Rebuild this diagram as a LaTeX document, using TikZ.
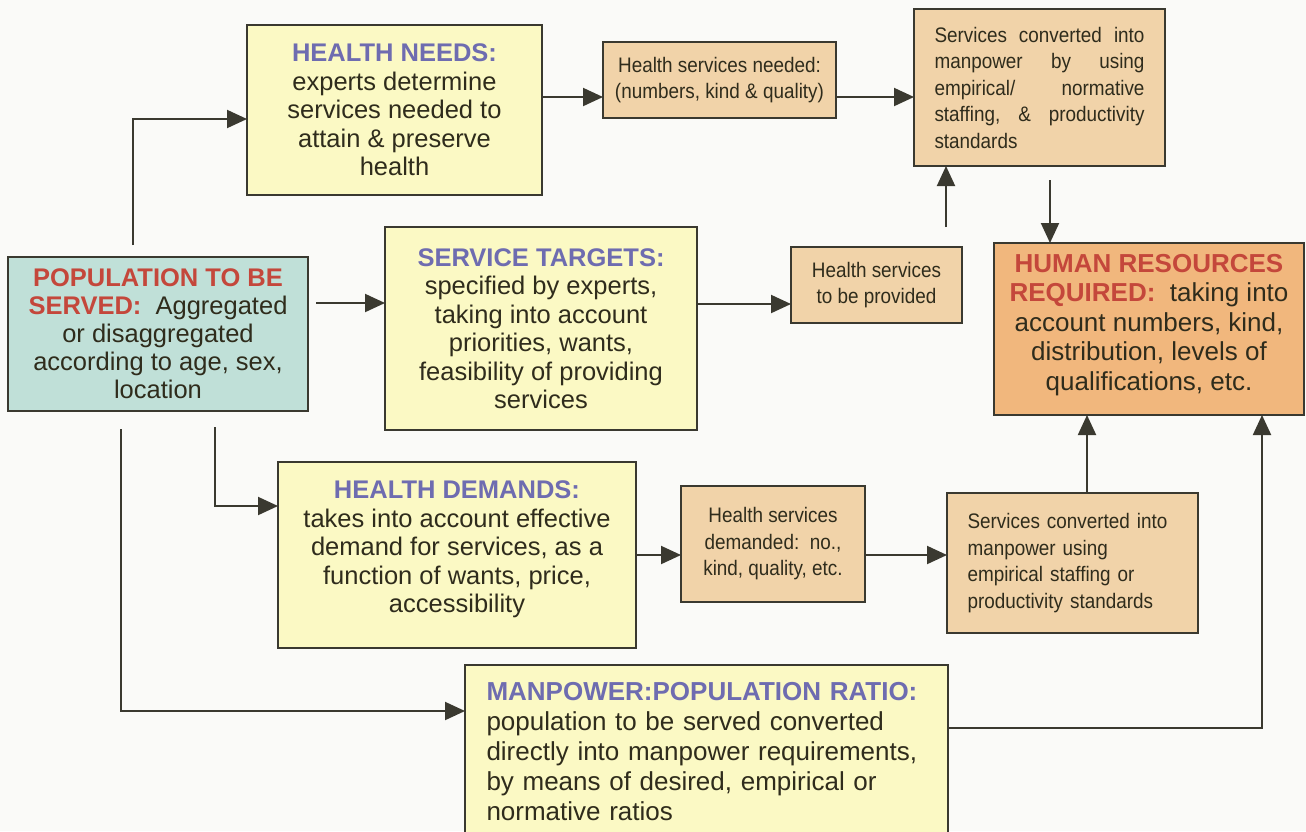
\documentclass[tikz,border=0pt]{standalone}
\usepackage{fontspec}
\setmainfont{Liberation Sans}
\newfontfamily\narrowsans[FakeStretch=0.9]{Liberation Sans}
\usetikzlibrary{arrows.meta}

\definecolor{ink}{HTML}{2F2C1C}
\definecolor{edgecol}{HTML}{3A3930}
\definecolor{titleblue}{HTML}{6E6CB0}
\definecolor{titlered}{HTML}{C4473B}
\definecolor{paleyellow}{HTML}{FBF9C4}
\definecolor{boxtan}{HTML}{F1D3A9}
\definecolor{boxteal}{HTML}{C0E0D8}
\definecolor{hrorange}{HTML}{F1B77D}
\definecolor{pagebg}{HTML}{FAFAF8}

\newcommand{\bluehead}[1]{\textcolor{titleblue}{\textbf{#1}}}
\newcommand{\redhead}[1]{\textcolor{titlered}{\textbf{#1}}}
\newcommand{\justline}[1]{\makebox[210pt][l]{#1}}

\tikzset{
  box/.style={draw=edgecol, line width=2pt, inner sep=0pt, outer sep=0pt, text=ink, align=center},
  bigbox/.style={box, fill=paleyellow, font=\fontsize{25.5}{28.5}\selectfont},
  smallbox/.style={box, fill=boxtan, font=\narrowsans\fontsize{21}{26.5}\selectfont},
  arr/.style={draw=edgecol, line width=2pt, -{Triangle[length=20pt,width=18pt]}},
}

\begin{document}
\begin{tikzpicture}[x=1pt,y=-1pt]
\fill[pagebg] (0,0) rectangle (1306,831);
\useasboundingbox (0,0) rectangle (1306,831);
\clip (0,0) rectangle (1306,831);

% source population
\node[box, fill=boxteal, font=\fontsize{25.5}{28}\selectfont,
      minimum width=300pt, minimum height=154pt] (pop) at (158,334)
  {\redhead{POPULATION TO BE}\\\redhead{SERVED:}\ \ Aggregated\\or disaggregated\\according to age, sex,\\location};

% the four approaches
\node[bigbox, minimum width=295pt, minimum height=170pt] (hn) at (394.5,110)
  {\bluehead{HEALTH NEEDS:}\\experts determine\\services needed to\\attain \& preserve\\health};

\node[bigbox, minimum width=312pt, minimum height=203pt] (st) at (541,328.5)
  {\bluehead{SERVICE TARGETS:}\\specified by experts,\\taking into account\\priorities, wants,\\feasibility of providing\\services};

\node[bigbox, text depth=16pt, minimum width=358pt, minimum height=186pt] (hd) at (457,555)
  {\bluehead{HEALTH DEMANDS:}\\takes into account effective\\demand for services, as a\\function of wants, price,\\accessibility};

\node[bigbox, font=\fontsize{26}{30}\selectfont, align=left, text width=440pt,
      minimum width=483pt, minimum height=173pt] (mp) at (706.5,751.5)
  {\bluehead{MANPOWER:POPULATION RATIO:}\\population to be served converted\\directly into manpower requirements,\\by means of desired, empirical or\\normative ratios};

% intermediate service quantities
\node[smallbox, minimum width=233pt, minimum height=76pt] (hsn) at (719.5,80)
  {Health services needed:\\(numbers, kind \& quality)};

\node[smallbox, minimum width=171pt, minimum height=76pt] (hsp) at (876.5,285)
  {Health services\\to be provided};

\node[smallbox, minimum width=184pt, minimum height=116pt] (hsd) at (773,544)
  {Health services\\demanded:\ \ no.,\\kind, quality, etc.};

% conversion into manpower
\node[smallbox, align=left, text width=210pt, minimum width=251pt, minimum height=157pt] (sct) at (1039.5,87.5)
  {\justline{Services\hfill converted\hfill into}\\
   \justline{manpower\hfill by\hfill using}\\
   \justline{empirical/\hfill normative}\\
   \justline{staffing,\hfill \&\hfill productivity}\\
   standards};

\node[smallbox, align=left, text width=210pt, minimum width=251pt, minimum height=140pt] (scb) at (1072.5,563)
  {Services converted into\\manpower using\\empirical staffing or\\productivity standards};

% result
\node[box, fill=hrorange, font=\fontsize{26}{29.5}\selectfont, text depth=14pt,
      minimum width=310pt, minimum height=172pt] (hr) at (1149,329)
  {\redhead{HUMAN RESOURCES}\\\redhead{REQUIRED:}\ \ taking into\\account numbers, kind,\\distribution, levels of\\qualifications, etc.};

% connectors from the population box
\draw[arr] ([xshift=-25pt,yshift=12pt]pop.north) |- ([yshift=-9pt]hn.west);
\draw[arr] ([xshift=8pt,yshift=31pt]pop.east) coordinate (p1) -- (p1 -| st.west);
\draw[arr] ([xshift=57pt,yshift=-16pt]pop.south) |- ([yshift=49pt]hd.west);
\draw[arr] ([xshift=-37pt,yshift=-18pt]pop.south) |- ([yshift=40.5pt]mp.west);

% needs path
\draw[arr] ([yshift=13pt]hn.east) coordinate (p2) -- (p2 -| hsn.west);
\draw[arr] ([yshift=-17pt]hsn.east) coordinate (p3) -- (p3 -| sct.west);

% targets path
\draw[arr] ([yshift=24.5pt]st.east) coordinate (p4) -- (p4 -| hsp.west);
\draw[arr] ([xshift=69.5pt,yshift=20pt]hsp.north) coordinate (p5) -- (p5 |- sct.south);
\draw[arr] ([xshift=10.5pt,yshift=-14pt]sct.south) coordinate (p6) -- (p6 |- hr.north);

% demands path
\draw[arr] (hd.east) -- (hd.east -| hsd.west);
\draw[arr] ([yshift=-11pt]hsd.east) coordinate (p7) -- (p7 -| scb.west);
\draw[arr] ([xshift=14.5pt]scb.north) coordinate (p8) -- (p8 |- hr.south);

% ratio path
\draw[arr] ([yshift=23.5pt]mp.east) -| ([xshift=113pt]hr.south);
\end{tikzpicture}
\end{document}
